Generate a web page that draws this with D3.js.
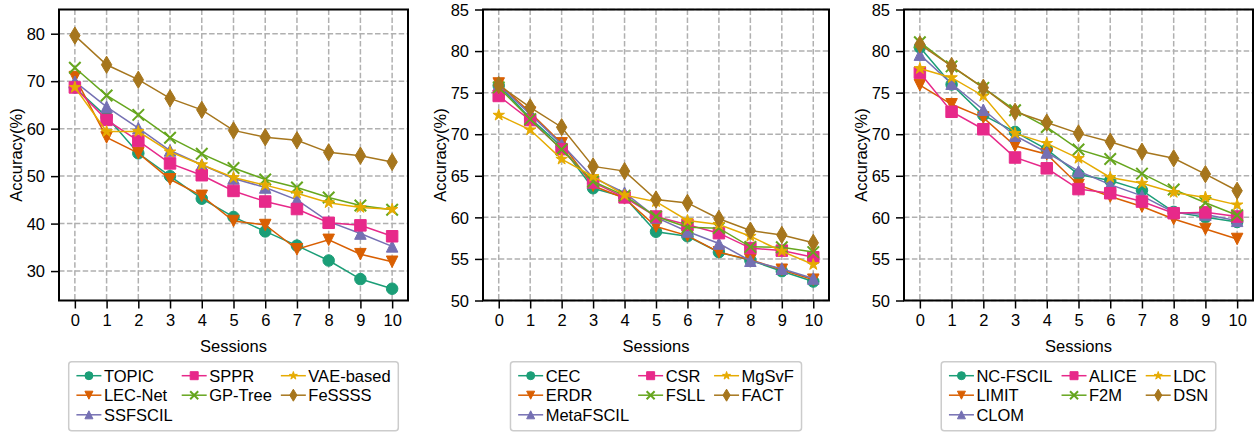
<!DOCTYPE html>
<html>
<head>
<meta charset="utf-8">
<script src="https://cdn.jsdelivr.net/npm/d3@7"></script>
<style>
  body { margin: 0; background: #fff; }
  svg { display: block; font-family: "Liberation Sans", Arial, sans-serif; }
</style>
</head>
<body>
<svg id="chart" width="1258" height="432"></svg>
<script>
const sessions = [0, 1, 2, 3, 4, 5, 6, 7, 8, 9, 10]

// panel 1
const names1 = ["TOPIC", "LEC-Net", "SSFSCIL", "SPPR", "GP-Tree", "VAE-based", "FeSSSS"]
const topic = [68.68, 62.49, 54.81, 49.99, 45.25, 41.40, 38.35, 35.36, 32.22, 28.31, 26.28]
const lecNet = [70.86, 58.15, 54.83, 49.34, 45.85, 40.55, 39.70, 34.59, 36.58, 33.56, 31.96]
const ssfscil = [69.9, 64.6, 60.1, 55.4, 52.4, 49.5, 47.6, 45.0, 40.4, 37.9, 35.2]
const sppr = [68.68, 61.85, 57.43, 52.68, 50.19, 46.88, 44.65, 43.07, 40.17, 39.63, 37.33]
const gpTree = [72.84, 67.0, 62.9, 58.1, 54.7, 51.7, 49.3, 47.6, 45.5, 43.8, 42.9]
const vaeBased = [68.7, 59.4, 59.4, 55.1, 52.4, 49.7, 48.1, 46.4, 44.4, 43.4, 43.0]
const fessss = [79.60, 73.46, 70.32, 66.38, 63.97, 59.63, 58.19, 57.56, 55.01, 54.31, 52.98]
const yTicks1 = [30, 40, 50, 60, 70, 80]

// panel 2
const names2 = ["CEC", "ERDR", "MetaFSCIL", "CSR", "FSLL", "MgSvF", "FACT"]
const cec = [75.85, 71.94, 68.50, 63.50, 62.43, 58.27, 57.73, 55.81, 54.83, 53.52, 52.28]
const erdr = [76.1, 72.6, 68.9, 63.8, 62.3, 58.9, 57.8, 55.8, 54.9, 53.7, 52.5]
const metaFscil = [75.90, 72.41, 68.78, 64.78, 62.96, 59.99, 58.30, 56.85, 54.78, 53.82, 52.64]
const csr = [74.6, 71.7, 68.2, 64.2, 62.4, 60.1, 59.1, 58.1, 56.3, 56.0, 55.2]
const fsll = [75.63, 71.81, 68.16, 64.32, 62.61, 60.10, 58.82, 58.70, 56.45, 56.41, 55.82]
const mgsvf = [72.29, 70.53, 67.00, 64.92, 62.67, 61.89, 59.63, 59.15, 57.73, 55.92, 54.33]
const fact = [75.90, 73.23, 70.84, 66.13, 65.56, 62.15, 61.74, 59.83, 58.41, 57.89, 56.94]

// panel 3
const names3 = ["NC-FSCIL", "LIMIT", "CLOM", "ALICE", "F2M", "LDC", "DSN"]
const ncFscil = [80.45, 75.98, 72.30, 70.28, 68.17, 65.16, 64.43, 63.25, 60.66, 60.01, 59.44]
const limit = [75.9, 73.6, 72.0, 68.6, 67.6, 63.9, 62.5, 61.3, 59.8, 58.6, 57.4]
const clom = [79.57, 76.07, 72.94, 69.82, 67.80, 65.56, 63.94, 62.59, 60.62, 60.34, 59.58]
const alice = [77.40, 72.70, 70.60, 67.20, 65.90, 63.40, 62.90, 61.90, 60.50, 60.60, 60.10]
const f2m = [81.07, 78.16, 75.57, 72.89, 70.86, 68.17, 67.01, 65.26, 63.36, 61.76, 60.26]
const ldc = [77.9, 76.8, 74.6, 70.1, 68.9, 67.1, 64.8, 64.1, 63.0, 62.4, 61.5]
const dsn = [80.8, 78.2, 75.6, 72.7, 71.4, 70.1, 69.1, 67.9, 67.1, 65.2, 63.2]
const yTicks23 = [50, 55, 60, 65, 70, 75, 80, 85]

const colors = ["#1b9e77", "#d95f02", "#7570b3", "#e7298a", "#66a61e", "#e6ab02", "#a6761d"]
const markers = ["circle", "tridown", "triup", "square", "x", "star", "diamond"]

const panels = [
    { left: 59, right: 408, domain: [23.8, 85.1], ticks: yTicks1, names: names1,
      series: [topic, lecNet, ssfscil, sppr, gpTree, vaeBased, fessss] },
    { left: 483, right: 829, domain: [50, 85], ticks: yTicks23, names: names2,
      series: [cec, erdr, metaFscil, csr, fsll, mgsvf, fact] },
    { left: 904, right: 1253, domain: [50, 85], ticks: yTicks23, names: names3,
      series: [ncFscil, limit, clom, alice, f2m, ldc, dsn] }
]

const plotTop = 9.5
const plotBottom = 300.5
const fontSize = 16.5

const svg = d3.select('#chart')
svg.append('rect').attr('width', 1258).attr('height', 432).attr('fill', '#fff')

function markerPath(kind, ms) {
    const h = ms / 2
    if (kind === 'circle') {
        return d3.symbol(d3.symbolCircle, Math.PI * h * h)()
    }
    if (kind === 'square') {
        return `M${-h},${-h}H${h}V${h}H${-h}Z`
    }
    if (kind === 'triup') {
        return `M0,${-h}L${h},${h}L${-h},${h}Z`
    }
    if (kind === 'tridown') {
        return `M0,${h}L${h},${-h}L${-h},${-h}Z`
    }
    if (kind === 'diamond') {
        const dh = ms * 0.75, dw = ms * 0.45
        return `M0,${-dh}L${dw},0L0,${dh}L${-dw},0Z`
    }
    if (kind === 'star') {
        const pts = []
        for (let i = 0; i < 10; i++) {
            const r = i % 2 === 0 ? h * 1.05 : h * 1.05 * 0.381966
            const a = -Math.PI / 2 + i * Math.PI / 5
            pts.push([r * Math.cos(a), r * Math.sin(a)])
        }
        return 'M' + pts.map(p => p[0].toFixed(2) + ',' + p[1].toFixed(2)).join('L') + 'Z'
    }
    if (kind === 'x') {
        return `M${-h},${-h}L${h},${h}M${-h},${h}L${h},${-h}`
    }
}

function drawMarker(g, kind, color, ms, x, y) {
    const p = g.append('path')
        .attr('d', markerPath(kind, ms))
        .attr('transform', `translate(${x},${y})`)
    if (kind === 'x') {
        p.attr('fill', 'none').attr('stroke', color).attr('stroke-width', 2)
    } else {
        p.attr('fill', color).attr('stroke', color).attr('stroke-width', 1)
    }
}

panels.forEach(function (panel) {
    const x = d3.scaleLinear().domain([-0.5, 10.5]).range([panel.left, panel.right])
    const y = d3.scaleLinear().domain(panel.domain).range([plotBottom, plotTop])
    const g = svg.append('g')

    // grid
    g.append('g').selectAll('line').data(sessions).enter().append('line')
        .attr('x1', d => x(d)).attr('x2', d => x(d))
        .attr('y1', plotTop).attr('y2', plotBottom)
        .attr('stroke', '#b0b0b0').attr('stroke-width', 1.5)
        .attr('stroke-dasharray', '5.5,2.4')
    g.append('g').selectAll('line').data(panel.ticks).enter().append('line')
        .attr('x1', panel.left).attr('x2', panel.right)
        .attr('y1', d => y(d)).attr('y2', d => y(d))
        .attr('stroke', '#b0b0b0').attr('stroke-width', 1.5)
        .attr('stroke-dasharray', '5.5,2.4')

    // series
    const line = d3.line().x((d, i) => x(sessions[i])).y(d => y(d))
    panel.series.forEach(function (vals, k) {
        const sg = g.append('g')
        sg.append('path').datum(vals)
            .attr('d', line)
            .attr('fill', 'none')
            .attr('stroke', colors[k])
            .attr('stroke-width', 1.5)
        vals.forEach(function (v, i) {
            drawMarker(sg, markers[k], colors[k], 11.5, x(sessions[i]), y(v))
        })
    })

    // axes
    const xAxis = g.append('g')
        .attr('transform', `translate(0,${plotBottom})`)
        .call(d3.axisBottom(x).tickValues(sessions).tickSize(8).tickPadding(6).tickFormat(d3.format('d')))
    const yAxis = g.append('g')
        .attr('transform', `translate(${panel.left},0)`)
        .call(d3.axisLeft(y).tickValues(panel.ticks).tickSize(8).tickPadding(6).tickFormat(d3.format('d')))
    ;[xAxis, yAxis].forEach(function (a) {
        a.select('.domain').remove()
        a.selectAll('.tick line').attr('stroke', '#000').attr('stroke-width', 1.5)
        a.selectAll('.tick text')
            .attr('fill', '#000')
            .style('font-size', fontSize + 'px')
            .style('font-family', '"Liberation Sans", Arial, sans-serif')
    })
    yAxis.selectAll('.tick text').attr('dy', '0.35em')

    g.append('rect')
        .attr('x', panel.left).attr('y', plotTop)
        .attr('width', panel.right - panel.left).attr('height', plotBottom - plotTop)
        .attr('fill', 'none').attr('stroke', '#000').attr('stroke-width', 2)

    // labels
    g.append('text')
        .attr('x', (panel.left + panel.right) / 2)
        .attr('y', 352)
        .attr('text-anchor', 'middle')
        .style('font-size', fontSize + 'px')
        .text('Sessions')
    g.append('text')
        .attr('transform', `translate(${panel.left - 37},${(plotTop + plotBottom) / 2}) rotate(-90)`)
        .attr('text-anchor', 'middle')
        .style('font-size', fontSize + 'px')
        .text('Accuracy(%)')

    // legend, 3 columns filled column by column
    const lg = svg.append('g')
    const box = lg.append('rect')
    const rows = [375.7, 395.2, 414.8]
    const cols = [[0, 1, 2], [3, 4], [5, 6]]
    const handle = 25, textGap = 2.5, colGap = 9, pad = 7.7
    const items = []
    let cx = 0
    cols.forEach(function (col) {
        let maxW = 0
        col.forEach(function (k, r) {
            const t = lg.append('text')
                .attr('y', rows[r] + 6)
                .style('font-size', fontSize + 'px')
                .text(panel.names[k])
            maxW = Math.max(maxW, t.node().getComputedTextLength())
            items.push({ k: k, r: r, x: cx, t: t })
        })
        cx += handle + textGap + maxW + colGap
    })
    const innerW = cx - colGap
    const boxW = innerW + pad * 2
    const boxX = (panel.left + panel.right) / 2 - boxW / 2
    box.attr('x', boxX).attr('y', 361.7)
        .attr('width', boxW).attr('height', 69)
        .attr('rx', 3)
        .attr('fill', '#fff')
        .attr('stroke', '#cccccc')
        .attr('stroke-width', 1.5)
    items.forEach(function (it) {
        const x0 = boxX + pad + it.x
        it.t.attr('x', x0 + handle + textGap)
        lg.append('line')
            .attr('x1', x0).attr('x2', x0 + handle)
            .attr('y1', rows[it.r]).attr('y2', rows[it.r])
            .attr('stroke', colors[it.k]).attr('stroke-width', 1.5)
        drawMarker(lg, markers[it.k], colors[it.k], 8, x0 + handle / 2, rows[it.r])
    })
})
</script>
</body>
</html>
